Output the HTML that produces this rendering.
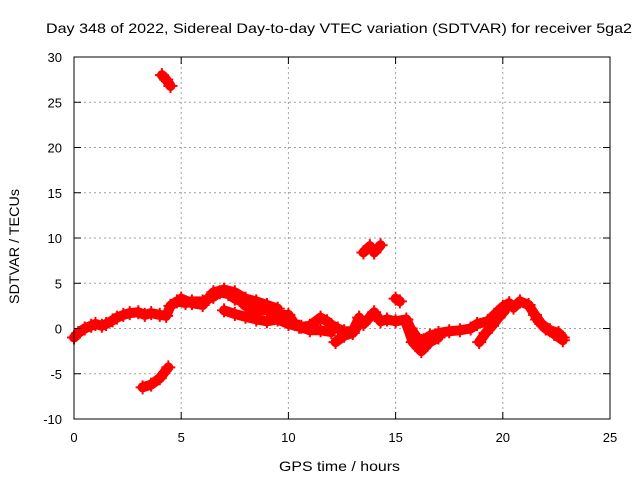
<!DOCTYPE html>
<html><head><meta charset="utf-8"><style>
html,body{margin:0;padding:0;background:#fff}
svg text{font-family:"Liberation Sans",sans-serif;font-size:13px;fill:#000}
</style></head><body>
<svg id="c" width="640" height="480" xmlns="http://www.w3.org/2000/svg">
<rect width="640" height="480" fill="#fff"/>
<g id="grid"></g>
<g id="marks"></g>
<rect x="74" y="57" width="536" height="362" fill="none" stroke="#000" stroke-width="1"/>
<g id="ticks"></g>
<text x="46" y="33" textLength="586" lengthAdjust="spacingAndGlyphs" style="font-size:14px">Day 348 of 2022, Sidereal Day-to-day VTEC variation (SDTVAR) for receiver 5ga2</text>
<text x="279" y="471" textLength="121" lengthAdjust="spacingAndGlyphs" style="font-size:14px">GPS time / hours</text>
<text transform="translate(19,304) rotate(-90)" textLength="115" lengthAdjust="spacingAndGlyphs" style="font-size:14px">SDTVAR / TECUs</text>
</svg>
<script>
const xTicks=[0,5,10,15,20,25];
const yTicks=[-10,-5,0,5,10,15,20,25,30];
const strandMain=[[0,-1],[0.2,-0.5],[0.5,0],[0.8,0.3],[1.0,0.5],[1.3,0.3],[1.5,0.5],[1.8,0.9],[2.0,1.2],[2.3,1.5],[2.6,1.7],[3.0,1.8],[3.3,1.5],[3.6,1.7],[4.0,1.5],[4.3,1.4],[4.5,2.5],[4.8,3],[5.2,2.8],[5.5,3],[6.0,3],[6.5,3.5],[6.8,4],[7.2,3.8],[7.5,3.3],[7.8,3],[8.0,2.5],[8.5,2],[9.0,2],[9.5,1.5],[10,1.5],[10.3,0.5],[10.6,0.2],[11,0.3],[11.5,1.2],[11.8,0.8],[12,0.4],[12.3,0],[12.6,-0.3],[13,-0.3],[13.3,1.2],[13.5,0.5],[13.7,1],[14,1.8],[14.3,0.8],[14.6,1],[15,0.8],[15.5,1],[15.7,0],[16,-1],[16.3,-1.3],[16.6,-0.8],[17,-0.5],[17.5,-0.3],[18,-0.2],[18.5,0],[18.8,0.5],[19.3,0.8],[19.6,1.5],[20,2.4],[20.3,2.8],[20.5,2.3],[20.8,3],[21.2,2.6],[21.5,1.5],[21.8,0.5],[22.2,-0.2],[22.6,-0.5],[22.8,-1]];
const strandLower=[[7,2],[7.5,1.6],[8,1.3],[8.5,1],[9,0.8],[9.5,1],[10,0.5],[10.5,0.2],[11,-0.2],[11.5,-0.2],[12,-0.4]];
const strandUpper=[[5,3.3],[5.5,2.8],[6,2.6],[6.5,4],[7,4.3],[7.5,4],[8,3.3],[8.5,3],[9,2.6],[9.5,2.2]];
const strandDip1=[[12.2,-1.5],[12.6,-0.8],[13,-0.5],[13.3,0.5]];
const strandDip2=[[15.5,0.5],[15.8,-1.5],[16.2,-2.5],[16.6,-1.5],[17,-1]];
const strandRise=[[18.9,-1.5],[19.2,-0.5],[19.5,0.3],[19.8,1.2],[20.1,2]];
const strandTail=[[21.6,1],[22,0],[22.4,-0.6],[22.8,-1.3]];
const strandSpike=[[15.0,3.3],[15.2,3]];
const strandHigh=[[4.1,28],[4.3,27.5],[4.5,26.8]];
const strandNeg=[[3.2,-6.5],[3.6,-6.2],[4.0,-5.5],[4.4,-4.3]];
const strandMid=[[13.5,8.4],[13.8,9.1],[14.0,8.4],[14.3,9.2]];
const strands=[strandMain,strandLower,strandUpper,strandDip1,strandDip2,strandRise,strandTail,strandSpike,strandHigh,strandNeg,strandMid];
const X=t=>74+t*(536/25), Y=v=>419-(v+10)*(362/40);
const NS="http://www.w3.org/2000/svg";
const grid=document.getElementById('grid'),ticks=document.getElementById('ticks'),marks=document.getElementById('marks');
function mk(tag,a,p){const e=document.createElementNS(NS,tag);for(const k in a)e.setAttribute(k,a[k]);p.appendChild(e);return e;}
xTicks.forEach(t=>{const x=X(t);
 if(t>0&&t<25){const l=mk('line',{x1:x,y1:57,x2:x,y2:419,stroke:'#a0a0a0','stroke-dasharray':'2,3'},grid);}
 mk('line',{x1:x,y1:419,x2:x,y2:412,stroke:'#000'},ticks);mk('line',{x1:x,y1:57,x2:x,y2:64,stroke:'#000'},ticks);
 const tx=mk('text',{x:x,y:442,'text-anchor':'middle'},ticks);tx.textContent=t;
 });
yTicks.forEach(v=>{const y=Y(v);
 if(v>-10&&v<30){const l=mk('line',{x1:74,y1:y,x2:610,y2:y,stroke:'#a0a0a0','stroke-dasharray':'2,3'},grid);}
 mk('line',{x1:74,y1:y,x2:81,y2:y,stroke:'#000'},ticks);mk('line',{x1:610,y1:y,x2:603,y2:y,stroke:'#000'},ticks);
 const tx=mk('text',{x:62,y:y+5,'text-anchor':'end'},ticks);tx.textContent=v;
 });
strands.forEach(s=>{
 const pl=mk('polyline',{points:s.map(p=>X(p[0])+','+Y(p[1])).join(' '),fill:'none',stroke:'#ff0000','stroke-width':10,'stroke-linejoin':'round','stroke-linecap':'round'},marks);
 
 
 s.forEach(p=>{const x=X(p[0]),y=Y(p[1]);
  const g=mk('path',{d:`M${x-7},${y}H${x+7}M${x},${y-7}V${y+7}`,stroke:'#ff0000','stroke-width':2},marks);
  
  });
});
</script>
</body></html>
